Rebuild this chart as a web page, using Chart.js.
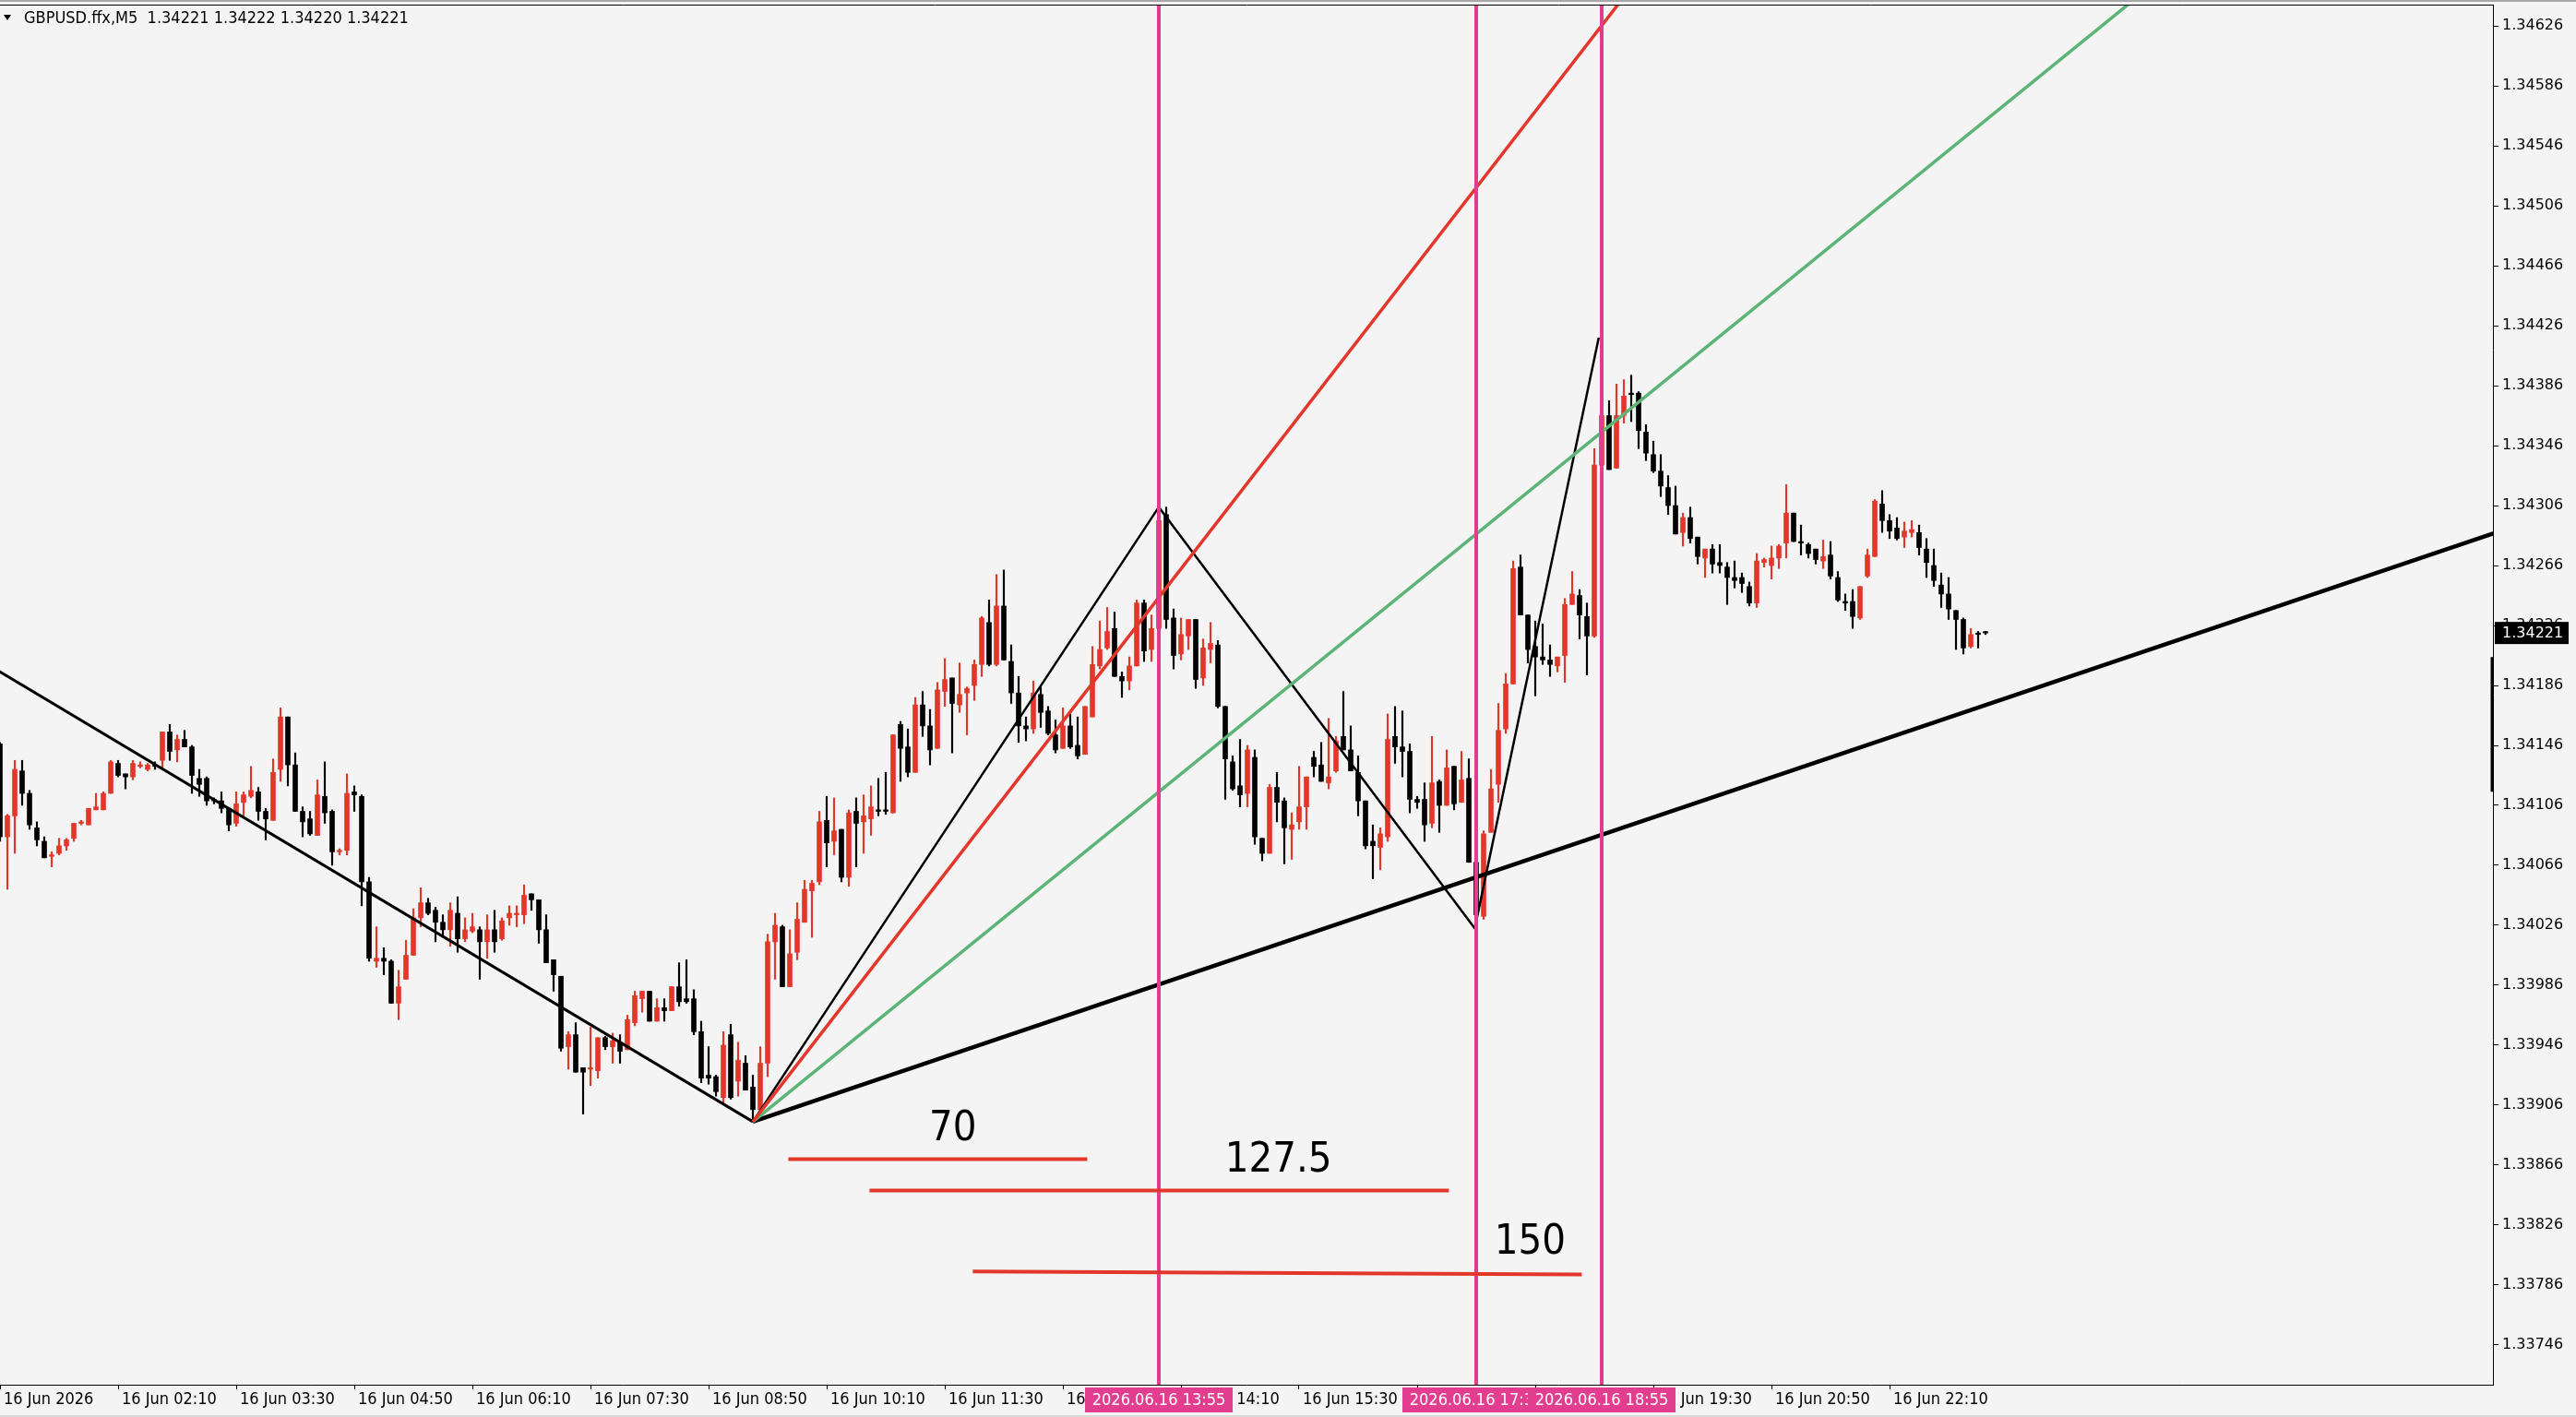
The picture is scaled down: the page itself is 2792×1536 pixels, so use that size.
<!DOCTYPE html>
<html lang="en">
<head>
<meta charset="UTF-8">
<title>GBPUSD.ffx M5</title>
<script src="https://cdn.jsdelivr.net/npm/chart.js"></script>
<style>
  html, body { margin: 0; padding: 0; background: #f4f4f4; overflow: hidden; }
  canvas { display: block; background: #f4f4f4; }
</style>
</head>
<body>
<canvas id="chart" width="2792" height="1536"></canvas>
<script>
// candles are numbered from the 00:55 bar, one bar = 5 minutes, first visible bar is -1
const symbol = 'GBPUSD.ffx,M5';
const firstBar = -1;

const opens = [
  1.34147,1.34085,1.34099,1.34129,1.34114,1.34091,1.34082,1.34072,1.34074,1.34079,
  1.34084,1.34094,1.34093,1.34103,1.34103,1.34114,1.34134,1.34127,1.34125,1.34132,
  1.34130,1.34133,1.34136,1.34155,1.34143,1.34150,1.34145,1.34124,1.34124,1.34110,
  1.34109,1.34104,1.34094,1.34108,1.34112,1.34115,1.34102,1.34096,1.34130,1.34165,
  1.34133,1.34102,1.34097,1.34086,1.34112,1.34102,1.34075,1.34076,1.34115,1.34112,
  1.34055,1.34002,1.34004,1.34002,1.33974,1.33990,1.34006,1.34031,1.34041,1.34036,
  1.34028,1.34023,1.34034,1.34017,1.34022,1.34023,1.34015,1.34023,1.34017,1.34031,
  1.34033,1.34033,1.34047,1.34043,1.34023,1.34003,1.33992,1.33945,1.33953,1.33931,
  1.33930,1.33929,1.33951,1.33945,1.33948,1.33943,1.33961,1.33977,1.33982,1.33962,
  1.33971,1.33969,1.33985,1.33977,1.33977,1.33955,1.33926,1.33925,1.33911,1.33953,
  1.33922,1.33934,1.33918,1.33903,1.33934,1.34015,1.34025,1.33985,1.34008,1.34028,
  1.34049,1.34055,1.34096,1.34082,1.34090,1.34058,1.34102,1.34095,1.34097,1.34103,
  1.34103,1.34101,1.34160,1.34145,1.34128,1.34173,1.34159,1.34144,1.34182,1.34191,
  1.34173,1.34181,1.34186,1.34200,1.34228,1.34200,1.34239,1.34202,1.34181,1.34159,
  1.34157,1.34180,1.34169,1.34153,1.34144,1.34159,1.34146,1.34140,1.34165,1.34199,
  1.34211,1.34224,1.34192,1.34189,1.34199,1.34241,1.34210,1.34224,1.34300,1.34231,
  1.34207,1.34219,1.34230,1.34191,1.34210,1.34213,1.34172,1.34135,1.34119,1.34114,
  1.34138,1.34084,1.34074,1.34118,1.34109,1.34090,1.34095,1.34105,1.34138,1.34133,
  1.34121,1.34129,1.34152,1.34143,1.34128,1.34109,1.34082,1.34078,1.34085,1.34152,
  1.34145,1.34142,1.34110,1.34110,1.34094,1.34122,1.34106,1.34132,1.34108,1.34124,
  1.34068,1.34032,1.34088,1.34120,1.34157,1.34187,1.34265,1.34233,1.34212,1.34205,
  1.34203,1.34199,1.34206,1.34240,1.34246,1.34232,1.34219,1.34333,1.34366,1.34331,
  1.34366,1.34381,1.34381,1.34355,1.34340,1.34329,1.34318,1.34306,1.34288,1.34298,
  1.34285,1.34271,1.34277,1.34268,1.34265,1.34258,1.34258,1.34252,1.34241,1.34268,
  1.34266,1.34271,1.34281,1.34301,1.34282,1.34280,1.34277,1.34269,1.34273,1.34258,
  1.34242,1.34242,1.34231,1.34259,1.34272,1.34307,1.34296,1.34291,1.34285,1.34288,
  1.34288,1.34277,1.34266,1.34253,1.34247,1.34236,1.34230,1.34212,1.34221,1.34221
];
const highs = [
  1.34148,1.34100,1.34136,1.34136,1.34116,1.34095,1.34085,1.34075,1.34084,1.34084,
  1.34094,1.34096,1.34104,1.34114,1.34115,1.34136,1.34136,1.34127,1.34136,1.34135,
  1.34134,1.34135,1.34155,1.34160,1.34153,1.34156,1.34146,1.34130,1.34125,1.34111,
  1.34115,1.34104,1.34115,1.34115,1.34132,1.34118,1.34104,1.34137,1.34171,1.34165,
  1.34141,1.34105,1.34102,1.34123,1.34135,1.34103,1.34077,1.34127,1.34119,1.34113,
  1.34058,1.34025,1.34011,1.34003,1.33996,1.34016,1.34037,1.34051,1.34044,1.34038,
  1.34033,1.34041,1.34045,1.34031,1.34034,1.34025,1.34033,1.34036,1.34031,1.34039,
  1.34039,1.34053,1.34047,1.34043,1.34033,1.34003,1.33992,1.33955,1.33961,1.33931,
  1.33958,1.33951,1.33952,1.33954,1.33953,1.33966,1.33982,1.33982,1.33982,1.33977,
  1.33977,1.33985,1.34001,1.34003,1.33983,1.33962,1.33945,1.33926,1.33955,1.33960,
  1.33948,1.33939,1.33926,1.33945,1.34020,1.34034,1.34026,1.34023,1.34041,1.34056,
  1.34056,1.34102,1.34112,1.34111,1.34090,1.34103,1.34111,1.34113,1.34119,1.34124,
  1.34128,1.34153,1.34162,1.34157,1.34178,1.34182,1.34170,1.34188,1.34204,1.34191,
  1.34201,1.34185,1.34203,1.34232,1.34243,1.34260,1.34263,1.34213,1.34192,1.34165,
  1.34189,1.34185,1.34172,1.34163,1.34171,1.34167,1.34165,1.34172,1.34212,1.34229,
  1.34238,1.34235,1.34195,1.34205,1.34243,1.34243,1.34233,1.34300,1.34305,1.34237,
  1.34231,1.34230,1.34230,1.34217,1.34228,1.34216,1.34172,1.34139,1.34150,1.34146,
  1.34143,1.34084,1.34120,1.34128,1.34111,1.34101,1.34132,1.34125,1.34142,1.34148,
  1.34164,1.34152,1.34182,1.34159,1.34139,1.34109,1.34093,1.34091,1.34167,1.34172,
  1.34169,1.34147,1.34112,1.34121,1.34152,1.34123,1.34143,1.34132,1.34142,1.34137,
  1.34070,1.34089,1.34130,1.34174,1.34194,1.34269,1.34273,1.34233,1.34229,1.34227,
  1.34213,1.34205,1.34244,1.34262,1.34250,1.34241,1.34344,1.34375,1.34376,1.34387,
  1.34390,1.34393,1.34382,1.34360,1.34349,1.34340,1.34326,1.34319,1.34301,1.34305,
  1.34285,1.34277,1.34280,1.34280,1.34268,1.34269,1.34261,1.34255,1.34274,1.34271,
  1.34279,1.34280,1.34320,1.34301,1.34293,1.34281,1.34277,1.34283,1.34282,1.34262,
  1.34247,1.34250,1.34252,1.34277,1.34310,1.34316,1.34300,1.34298,1.34295,1.34296,
  1.34293,1.34284,1.34277,1.34261,1.34258,1.34236,1.34231,1.34224,1.34222,1.34222
];
const lows = [
  1.34082,1.34050,1.34074,1.34106,1.34090,1.34079,1.34071,1.34065,1.34073,1.34076,
  1.34082,1.34093,1.34093,1.34103,1.34103,1.34114,1.34125,1.34117,1.34123,1.34131,
  1.34129,1.34130,1.34131,1.34136,1.34135,1.34145,1.34114,1.34112,1.34106,1.34107,
  1.34101,1.34089,1.34092,1.34099,1.34111,1.34096,1.34083,1.34096,1.34122,1.34119,
  1.34102,1.34085,1.34086,1.34086,1.34094,1.34066,1.34073,1.34073,1.34102,1.34039,
  1.34002,1.33998,1.33993,1.33974,1.33963,1.33990,1.34006,1.34025,1.34033,1.34015,
  1.34018,1.34012,1.34008,1.34015,1.34021,1.33990,1.34004,1.34008,1.34016,1.34026,
  1.34025,1.34027,1.34036,1.34014,1.34001,1.33982,1.33942,1.33930,1.33928,1.33900,
  1.33919,1.33924,1.33943,1.33934,1.33934,1.33943,1.33959,1.33968,1.33962,1.33962,
  1.33962,1.33969,1.33972,1.33974,1.33953,1.33921,1.33920,1.33912,1.33907,1.33910,
  1.33912,1.33916,1.33895,1.33902,1.33925,1.33990,1.33985,1.33985,1.34003,1.34028,
  1.34018,1.34053,1.34065,1.34073,1.34055,1.34052,1.34065,1.34074,1.34086,1.34099,
  1.34100,1.34101,1.34122,1.34125,1.34128,1.34152,1.34133,1.34144,1.34172,1.34141,
  1.34168,1.34153,1.34176,1.34192,1.34199,1.34199,1.34203,1.34174,1.34148,1.34149,
  1.34154,1.34158,1.34153,1.34141,1.34144,1.34144,1.34137,1.34140,1.34165,1.34197,
  1.34210,1.34192,1.34178,1.34183,1.34199,1.34202,1.34202,1.34220,1.34224,1.34197,
  1.34203,1.34210,1.34184,1.34186,1.34201,1.34171,1.34110,1.34116,1.34105,1.34105,
  1.34080,1.34069,1.34074,1.34095,1.34067,1.34070,1.34090,1.34090,1.34125,1.34122,
  1.34117,1.34128,1.34143,1.34129,1.34099,1.34077,1.34057,1.34063,1.34082,1.34134,
  1.34125,1.34101,1.34104,1.34082,1.34091,1.34088,1.34106,1.34103,1.34108,1.34068,
  1.34024,1.34030,1.34088,1.34108,1.34154,1.34187,1.34233,1.34201,1.34179,1.34200,
  1.34192,1.34195,1.34188,1.34240,1.34217,1.34193,1.34218,1.34320,1.34330,1.34331,
  1.34361,1.34362,1.34344,1.34336,1.34328,1.34312,1.34300,1.34287,1.34279,1.34281,
  1.34267,1.34258,1.34261,1.34261,1.34240,1.34251,1.34248,1.34239,1.34238,1.34265,
  1.34257,1.34264,1.34271,1.34282,1.34273,1.34271,1.34267,1.34264,1.34257,1.34242,
  1.34236,1.34224,1.34230,1.34258,1.34272,1.34288,1.34284,1.34283,1.34278,1.34285,
  1.34273,1.34258,1.34252,1.34238,1.34230,1.34210,1.34207,1.34211,1.34211,1.34220
];
const closes = [
  1.34085,1.34099,1.34130,1.34114,1.34093,1.34083,1.34071,1.34073,1.34079,1.34083,
  1.34094,1.34095,1.34104,1.34105,1.34114,1.34135,1.34126,1.34125,1.34134,1.34133,
  1.34133,1.34132,1.34155,1.34142,1.34150,1.34145,1.34126,1.34120,1.34109,1.34109,
  1.34104,1.34093,1.34107,1.34113,1.34116,1.34102,1.34097,1.34128,1.34165,1.34133,
  1.34102,1.34095,1.34087,1.34113,1.34101,1.34075,1.34076,1.34114,1.34113,1.34055,
  1.34004,1.34004,1.34002,1.33974,1.33985,1.34006,1.34031,1.34041,1.34034,1.34028,
  1.34023,1.34036,1.34017,1.34023,1.34025,1.34015,1.34023,1.34015,1.34029,1.34034,
  1.34034,1.34046,1.34043,1.34023,1.34001,1.33993,1.33944,1.33953,1.33928,1.33928,
  1.33931,1.33951,1.33945,1.33949,1.33942,1.33963,1.33979,1.33982,1.33962,1.33971,
  1.33969,1.33985,1.33975,1.33975,1.33955,1.33924,1.33924,1.33915,1.33946,1.33911,
  1.33936,1.33916,1.33903,1.33934,1.34015,1.34026,1.33985,1.34007,1.34030,1.34050,
  1.34054,1.34095,1.34081,1.34089,1.34058,1.34101,1.34094,1.34099,1.34105,1.34102,
  1.34102,1.34153,1.34144,1.34128,1.34173,1.34159,1.34143,1.34183,1.34190,1.34174,
  1.34180,1.34184,1.34200,1.34231,1.34200,1.34239,1.34203,1.34181,1.34159,1.34157,
  1.34181,1.34168,1.34154,1.34143,1.34159,1.34145,1.34139,1.34172,1.34200,1.34210,
  1.34222,1.34192,1.34189,1.34199,1.34241,1.34209,1.34224,1.34296,1.34230,1.34206,
  1.34220,1.34230,1.34190,1.34211,1.34214,1.34172,1.34137,1.34117,1.34113,1.34143,
  1.34085,1.34074,1.34118,1.34108,1.34091,1.34093,1.34105,1.34125,1.34132,1.34122,
  1.34125,1.34149,1.34143,1.34129,1.34109,1.34079,1.34079,1.34087,1.34150,1.34145,
  1.34142,1.34110,1.34108,1.34093,1.34121,1.34106,1.34131,1.34107,1.34123,1.34068,
  1.34033,1.34087,1.34117,1.34156,1.34187,1.34264,1.34233,1.34210,1.34205,1.34203,
  1.34200,1.34205,1.34240,1.34247,1.34233,1.34219,1.34333,1.34366,1.34330,1.34366,
  1.34379,1.34380,1.34356,1.34341,1.34329,1.34319,1.34306,1.34287,1.34298,1.34284,
  1.34272,1.34277,1.34267,1.34266,1.34258,1.34256,1.34254,1.34241,1.34269,1.34270,
  1.34271,1.34279,1.34301,1.34282,1.34281,1.34274,1.34270,1.34272,1.34259,1.34243,
  1.34241,1.34232,1.34252,1.34273,1.34309,1.34296,1.34289,1.34284,1.34289,1.34290,
  1.34278,1.34268,1.34256,1.34247,1.34237,1.34230,1.34211,1.34220,1.34220,1.34221
];

// axes
const xMin = -1, xMax = 336.75;
const priceMin = 1.337195, priceMax = 1.346402;
const timeTickBars = [-1, 15, 31, 47, 63, 79, 95, 111, 127, 143, 159, 175, 191, 207, 223, 239, 255];
const timeTickLabels = ['16 Jun 2026', '16 Jun 02:10', '16 Jun 03:30', '16 Jun 04:50', '16 Jun 06:10',
  '16 Jun 07:30', '16 Jun 08:50', '16 Jun 10:10', '16 Jun 11:30', '16 Jun 12:50', '16 Jun 14:10',
  '16 Jun 15:30', '16 Jun 16:50', '16 Jun 18:10', '16 Jun 19:30', '16 Jun 20:50', '16 Jun 22:10'];
const priceTicks = [1.33746, 1.33786, 1.33826, 1.33866, 1.33906, 1.33946, 1.33986, 1.34026,
  1.34066, 1.34106, 1.34146, 1.34186, 1.34226, 1.34266, 1.34306, 1.34346, 1.34386, 1.34426,
  1.34466, 1.34506, 1.34546, 1.34586, 1.34626];

// drawn objects (bar index, price)
const downTrendX = [-2, 101], downTrendY = [1.34198, 1.33895];
const supportX = [101, 345], supportY = [1.33895, 1.34301];
const zigzagX = [101, 156, 198.8, 215.6], zigzagY = [1.33895, 1.34305, 1.34024, 1.34418];
const redFanX = [101, 235], redFanY = [1.33895, 1.34747];
const greenFanX = [101, 300], greenFanY = [1.33895, 1.34691];
const vlineBars = [156, 199, 216];
const vlineLabels = ['2026.06.16 13:55', '2026.06.16 17:30', '2026.06.16 18:55'];
const levelStartX = [105.8, 116.8, 130.8], levelEndX = [146.3, 195.3, 213.3];
const levelStartY = [1.33870, 1.33849, 1.33795], levelEndY = [1.33870, 1.33849, 1.33793];
const levelLabels = ['70', '127.5', '150'];
const levelLabelX = [128.1, 172.2, 206.3], levelLabelY = [1.33890, 1.33869, 1.33814];
const axisMarkX = [336.75, 336.75], axisMarkY = [1.34115, 1.34205];

const RED = '#e3372b', BLACK = '#000000', GREEN = '#5db477', PINK = '#e23d8f';
const condensed = "'DejaVu Sans Condensed', 'Liberation Sans', sans-serif";

const bars = opens.map((o, i) => firstBar + i);
const candleColors = opens.map((o, i) => closes[i] > o ? RED : BLACK);

function line(xs, ys, color, width, order) {
  return {
    type: 'line',
    data: xs.map((x, i) => ({x: x, y: ys[i]})),
    borderColor: color,
    borderWidth: width,
    pointRadius: 0,
    tension: 0,
    fill: false,
    order: order
  };
}

const datasets = [
  {
    type: 'bar',
    data: bars.map((b, i) => ({x: b, y: [lows[i], highs[i]]})),
    backgroundColor: candleColors,
    barThickness: 1.5,
    grouped: false,
    order: 20
  },
  {
    type: 'bar',
    data: bars.map((b, i) => ({x: b, y: [opens[i], closes[i]]})),
    backgroundColor: candleColors,
    barThickness: 5,
    minBarLength: 1.5,
    grouped: false,
    order: 19
  },
  line(downTrendX, downTrendY, BLACK, 3, 6),
  line(supportX, supportY, BLACK, 4.5, 6),
  line(zigzagX, zigzagY, BLACK, 2.5, 6),
  line(greenFanX, greenFanY, GREEN, 3.5, 5),
  line(redFanX, redFanY, RED, 3.5, 4),
  line(axisMarkX, axisMarkY, BLACK, 5, 3)
];
vlineBars.forEach(b => datasets.push(line([b, b], [priceMin, priceMax], PINK, 4, 2)));
levelStartX.forEach((x0, i) => datasets.push(line([x0, levelEndX[i]], [levelStartY[i], levelEndY[i]], RED, 4, 1)));

const overlay = {
  id: 'overlay',
  afterDatasetsDraw(chart) {
    const {ctx, scales: {x, y}} = chart;
    ctx.save();
    ctx.fillStyle = BLACK;
    ctx.font = '45px ' + condensed;
    ctx.textAlign = 'center';
    ctx.textBaseline = 'middle';
    levelLabels.forEach((t, i) => {
      ctx.fillText(t, x.getPixelForValue(levelLabelX[i]), y.getPixelForValue(levelLabelY[i]));
    });
    ctx.restore();
  },
  afterDraw(chart) {
    const {ctx, chartArea, scales: {x, y}} = chart;
    ctx.save();
    // window frame
    ctx.fillStyle = '#a8a8a8';
    ctx.fillRect(0, 0, chart.width, 2);
    ctx.fillStyle = '#d9d9d9';
    ctx.fillRect(0, chart.height - 2, chart.width, 2);
    ctx.strokeStyle = BLACK;
    ctx.lineWidth = 1;
    ctx.beginPath();
    ctx.moveTo(0, chartArea.top + 0.5);
    ctx.lineTo(chartArea.right + 1, chartArea.top + 0.5);
    ctx.stroke();

    // vertical line time labels
    ctx.font = '18px ' + condensed;
    ctx.textAlign = 'center';
    ctx.textBaseline = 'middle';
    vlineBars.forEach((b, i) => {
      const px = x.getPixelForValue(b);
      ctx.fillStyle = PINK;
      ctx.fillRect(px - 80, chartArea.bottom + 3, 160, 27);
      ctx.fillStyle = '#ffffff';
      ctx.fillText(vlineLabels[i], px, chartArea.bottom + 17);
    });

    // last price tag
    const last = closes[closes.length - 1];
    const py = y.getPixelForValue(last);
    ctx.fillStyle = BLACK;
    ctx.fillRect(chartArea.right + 2, py - 12, 80, 24);
    ctx.fillStyle = '#ffffff';
    ctx.font = "16px 'DejaVu Sans', Verdana, sans-serif";
    ctx.textAlign = 'left';
    ctx.fillText(last.toFixed(5), chartArea.right + 10, py + 1);

    // header
    const n = opens.length - 1;
    ctx.fillStyle = BLACK;
    ctx.beginPath();
    ctx.moveTo(4, 16);
    ctx.lineTo(12, 16);
    ctx.lineTo(8, 22);
    ctx.closePath();
    ctx.fill();
    ctx.font = '18px ' + condensed;
    ctx.textAlign = 'left';
    ctx.fillText(symbol + '  ' + [opens[n], highs[n], lows[n], closes[n]].map(v => v.toFixed(5)).join(' '), 26, 20);
    ctx.restore();
  }
};

new Chart(document.getElementById('chart'), {
  type: 'bar',
  data: {datasets: datasets},
  plugins: [overlay],
  options: {
    responsive: false,
    animation: false,
    devicePixelRatio: 1,
    layout: {padding: {top: 5, left: 0, right: 0, bottom: 0}},
    plugins: {legend: {display: false}, tooltip: {enabled: false}},
    scales: {
      x: {
        type: 'linear',
        position: 'bottom',
        min: xMin,
        max: xMax,
        offset: false,
        grid: {display: true, drawOnChartArea: false, drawTicks: true, tickLength: 5, color: BLACK, offset: false},
        border: {display: true, color: BLACK, width: 1},
        afterBuildTicks: s => { s.ticks = timeTickBars.map(v => ({value: v})); },
        afterFit: s => { s.height = 35; s.paddingLeft = 0; s.paddingRight = 0; },
        ticks: {
          autoSkip: false,
          maxRotation: 0,
          align: 'start',
          labelOffset: 4,
          padding: 1,
          color: BLACK,
          font: {family: condensed, size: 18},
          callback: (v, i) => timeTickLabels[i]
        }
      },
      y: {
        type: 'linear',
        position: 'right',
        min: priceMin,
        max: priceMax,
        grid: {display: true, drawOnChartArea: false, drawTicks: true, tickLength: 6, color: BLACK},
        border: {display: true, color: BLACK, width: 1},
        afterBuildTicks: s => { s.ticks = priceTicks.map(v => ({value: v})); },
        afterFit: s => { s.width = 90; s.paddingTop = 0; s.paddingBottom = 0; },
        ticks: {
          autoSkip: false,
          padding: 4,
          color: BLACK,
          font: {family: "'DejaVu Sans', Verdana, sans-serif", size: 16},
          callback: v => v.toFixed(5)
        }
      }
    }
  }
});
</script>
</body>
</html>
